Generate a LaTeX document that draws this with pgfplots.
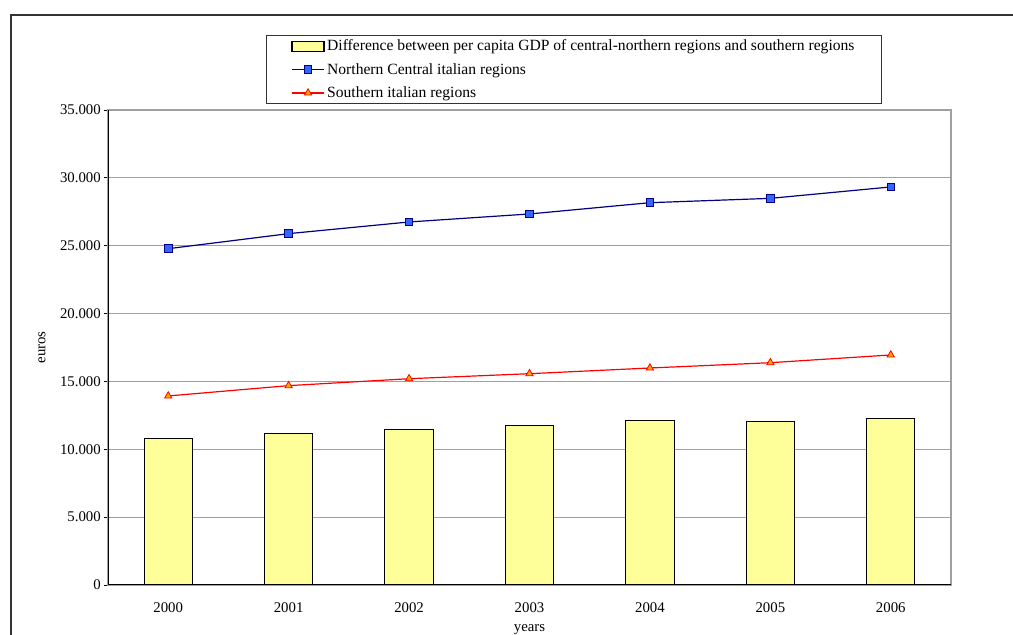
\documentclass[border=0pt]{standalone}
\usepackage{fontspec}
\setmainfont{Liberation Serif}
\usepackage{pgfplots}
\pgfplotsset{compat=1.18}

\definecolor{barfill}{HTML}{FFFF99}
\definecolor{navyline}{HTML}{000080}
\definecolor{bluemark}{HTML}{3366FF}
\definecolor{redline}{HTML}{FF0000}
\definecolor{orangemark}{HTML}{FFAA00}
\definecolor{gridgray}{HTML}{A0A0A0}

\pgfplotsset{
  barlegend/.style={legend image code/.code={%
    \draw[fill=barfill, draw=black, line width=1.2pt] (0pt,-5pt) rectangle (32pt,5pt);}},
  linelegend/.style={legend image code/.code={%
    \draw[##1, mark repeat=2, mark phase=2] plot coordinates {(0pt,0pt) (16pt,0pt) (32pt,0pt)};}},
}

% Per capita GDP (euros), 2000-2006
\pgfplotstableread{
x  year diff  north  south
0  2000 10830 24780  13930
1  2001 11170 25890  14690
2  2002 11490 26750  15200
3  2003 11740 27340  15570
4  2004 12100 28170  15990
5  2005 12050 28490  16380
6  2006 12300 29330  16950
}\gdpdata

\begin{document}
\begin{tikzpicture}[font=\fontsize{14.8}{17.8}\selectfont]
\begin{axis}[
  at={(108pt,50pt)}, anchor=south west,
  scale only axis, width=843pt, height=475pt,
  xmin=-0.5, xmax=6.5, ymin=0, ymax=35000,
  xtick={0,...,6},
  xticklabels={2000,2001,2002,2003,2004,2005,2006},
  ytick={0,5000,...,35000},
  scaled y ticks=false,
  /pgf/number format/.cd, 1000 sep={.}, assume math mode=true, /pgfplots/.cd,
  xtick style={draw=none},
  ytick style={black, line width=0.8pt},
  tick pos=left,
  tick align=outside, major tick length=4pt,
  yticklabel style={inner sep=0pt, xshift=-3pt},
  xticklabel style={inner sep=0pt, yshift=-13pt},
  ymajorgrids, grid style={gridgray, line width=1.2pt},
  axis line style={gridgray, line width=1.8pt},
  xlabel={years}, ylabel={euros},
  every axis x label/.style={at={(axis description cs:0.5,-0.0832)}, anchor=north, inner sep=0pt},
  every axis y label/.style={at={(axis description cs:-0.0783,0.5)}, anchor=center, rotate=90},
  legend style={at={(axis description cs:0.1874,1.1579)}, anchor=north west,
    draw=black!80, line width=1pt, inner xsep=25pt, inner ysep=3pt,
    row sep=8pt, font=\fontsize{15.6}{18}\selectfont,
    nodes={inner sep=1.5pt, inner xsep=2.5pt}},
  legend cell align=left,
]
\addplot[ybar, bar width=0.4, fill=barfill, draw=black, line width=1pt, barlegend]
  table[x=x, y=diff] {\gdpdata};
\addlegendentry{Difference between per capita GDP of central-northern regions and southern regions}

\addplot[navyline, line width=1.2pt, mark=square*,
  mark options={fill=bluemark, draw=navyline, line width=0.8pt, mark size=3.8pt}, linelegend]
  table[x=x, y=north] {\gdpdata};
\addlegendentry{Northern Central italian regions}

\addplot[redline, line width=1.2pt, mark=triangle*,
  mark options={fill=orangemark, draw=redline, line width=0.8pt, mark size=4.2pt}, linelegend]
  table[x=x, y=south] {\gdpdata};
\addlegendentry{Southern italian regions}

% black left and bottom axis lines over the grey frame
\draw[black, line width=1.3pt] (rel axis cs:0,1) -- (rel axis cs:0,0) -- (rel axis cs:1,0);
\end{axis}
% outer frame
\draw[black!80, line width=1.4pt] (11pt,-10pt) -- (11pt,620pt) -- (1030pt,620pt);
\pgfresetboundingbox
\path (0pt,0pt) rectangle (1013pt,635pt);
\end{tikzpicture}
\end{document}
